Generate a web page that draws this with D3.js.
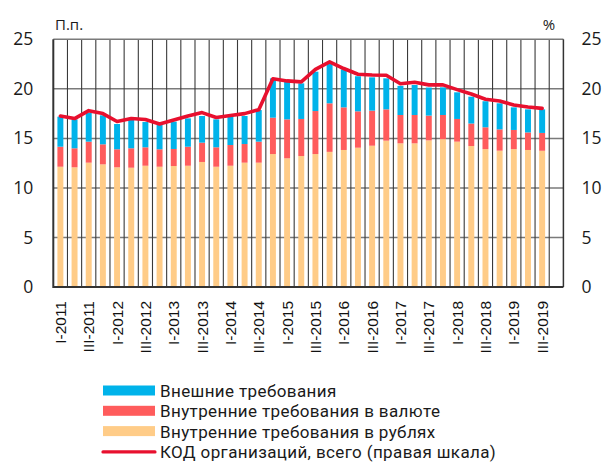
<!DOCTYPE html>
<html>
<head>
<meta charset="utf-8">
<script src="https://cdn.jsdelivr.net/npm/d3@7"></script>
<style>
  html, body { margin: 0; padding: 0; background: #fff; }
  svg { display: block; }
</style>
</head>
<body>
<svg id="chart" width="604" height="463"></svg>
<script>
// Quarterly periods, I-2011 … III-2019
const quarters = [
  "I-2011","II-2011","III-2011","IV-2011",
  "I-2012","II-2012","III-2012","IV-2012",
  "I-2013","II-2013","III-2013","IV-2013",
  "I-2014","II-2014","III-2014","IV-2014",
  "I-2015","II-2015","III-2015","IV-2015",
  "I-2016","II-2016","III-2016","IV-2016",
  "I-2017","II-2017","III-2017","IV-2017",
  "I-2018","II-2018","III-2018","IV-2018",
  "I-2019","II-2019","III-2019"
];
// trailing empty slot on the axis
const spareSlot = ["IV-2019"];

// Domestic claims in roubles, p.p.
const rubClaims = [
  12.14, 12.08, 12.55, 12.38,
  12.08, 12.04, 12.24, 12.14,
  12.21, 12.24, 12.62, 12.14,
  12.24, 12.55, 12.55, 13.42,
  12.99, 13.22, 13.42, 13.64,
  13.83, 14.06, 14.26, 14.77,
  14.50, 14.50, 14.80, 14.92,
  14.67, 14.23, 13.92, 13.76,
  13.92, 13.83, 13.75
];
// Domestic claims in foreign currency, p.p.
const fxClaims = [
  2.02, 1.92, 2.12, 2.02,
  1.82, 1.96, 1.86, 1.76,
  1.72, 1.92, 1.95, 1.96,
  2.09, 1.88, 2.12, 3.67,
  3.93, 3.74, 4.34, 4.90,
  4.30, 3.67, 3.54, 3.16,
  2.86, 2.86, 2.50, 2.44,
  2.29, 2.27, 2.20, 2.15,
  1.93, 1.77, 1.80
];
// External claims, p.p.
const extClaims = [
  3.03, 2.92, 2.93, 2.93,
  2.55, 2.86, 2.55, 2.45,
  2.76, 2.86, 2.69, 2.82,
  3.03, 2.83, 3.19, 3.97,
  3.80, 3.59, 3.97, 4.04,
  3.84, 3.54, 3.36, 3.13,
  2.94, 3.03, 2.83, 2.79,
  2.69, 2.71, 2.63, 2.63,
  2.28, 2.33, 2.38
];
// Total credit-to-GDP of corporates, % (right scale)
const totalRatio = [
  17.26, 17.00, 17.80, 17.50,
  16.70, 17.00, 16.90, 16.45,
  16.85, 17.26, 17.60, 17.10,
  17.30, 17.50, 17.90, 21.02,
  20.80, 20.70, 21.97, 22.72,
  22.05, 21.47, 21.40, 21.37,
  20.52, 20.66, 20.40, 20.40,
  19.92, 19.48, 18.95, 18.77,
  18.37, 18.17, 18.03
];

const yTicks = [0, 5, 10, 15, 20, 25];

const seriesNames = ["Внешние требования", "Внутренние требования в валюте", "Внутренние требования в рублях"];
const lineName = "КОД организаций, всего (правая шкала)";
const leftUnit = "П.п.";
const rightUnit = "%";

const colors = { ext: "#00b3ea", fx: "#ff5c5c", rub: "#ffcc88", line: "#e8102e" };

const svg = d3.select("#chart");
const m = { left: 53.3, right: 563.4, top: 39.3, bottom: 287 };

const x = d3.scaleBand()
  .domain(quarters.concat(spareSlot))
  .range([m.left, m.right])
  .paddingInner(0.58)
  .paddingOuter(0.29);
const step = x.step();

const yL = d3.scaleLinear().domain([0, 25]).range([m.bottom, m.top]);
const yR = d3.scaleLinear().domain([0, 25]).range([m.bottom, m.top]);

const rows = quarters.map((q, i) => ({ q, rub: rubClaims[i], fx: fxClaims[i], ext: extClaims[i], total: totalRatio[i] }));
const stack = d3.stack().keys(["rub", "fx", "ext"])(rows);

// Horizontal grid
svg.append("g").selectAll("line").data(yTicks.filter(t => t > 0 && t < 25)).join("line")
  .attr("x1", m.left).attr("x2", m.right)
  .attr("y1", d => yL(d)).attr("y2", d => yL(d))
  .attr("stroke", "#7a7a7a").attr("stroke-width", 1.5);

// Vertical grid at slot boundaries
const slotEdges = d3.range(1, x.domain().length).map(k => m.left + k * step);
svg.append("g").selectAll("line").data(slotEdges).join("line")
  .attr("x1", d => d).attr("x2", d => d)
  .attr("y1", m.top).attr("y2", m.bottom)
  .attr("stroke", "#3a3a3a").attr("stroke-width", 1.1);

// Bars
const layerColor = { rub: colors.rub, fx: colors.fx, ext: colors.ext };
svg.append("g").selectAll("g").data(stack).join("g")
  .attr("fill", d => layerColor[d.key])
  .selectAll("rect").data(d => d).join("rect")
    .attr("x", d => x(d.data.q))
    .attr("width", x.bandwidth())
    .attr("y", d => yL(d[1]))
    .attr("height", d => yL(d[0]) - yL(d[1]));

// Frame
svg.append("line").attr("x1", m.left).attr("x2", m.right).attr("y1", m.top).attr("y2", m.top)
  .attr("stroke", "#7a7a7a").attr("stroke-width", 1.5);
svg.append("line").attr("x1", m.right).attr("x2", m.right).attr("y1", m.top).attr("y2", m.bottom)
  .attr("stroke", "#333").attr("stroke-width", 1.5);
svg.append("line").attr("x1", m.left).attr("x2", m.right).attr("y1", m.bottom).attr("y2", m.bottom)
  .attr("stroke", "#333").attr("stroke-width", 2);
svg.append("line").attr("x1", m.left).attr("x2", m.left).attr("y1", m.top).attr("y2", m.bottom + 1)
  .attr("stroke", "#333").attr("stroke-width", 2);

// Total line (right scale)
const line = d3.line()
  .x(d => x(d.q) + x.bandwidth() / 2)
  .y(d => yR(d.total));
svg.append("path").datum(rows)
  .attr("d", line)
  .attr("fill", "none")
  .attr("stroke", colors.line)
  .attr("stroke-width", 3.6)
  .attr("stroke-linejoin", "round")
  .attr("stroke-linecap", "round");

// Axes
const numFont = "'Open Sans', 'DejaVu Sans', sans-serif";
const leftAxis = svg.append("g").attr("transform", `translate(${m.left},0)`)
  .call(d3.axisLeft(yL).tickValues(yTicks).tickSize(0).tickPadding(20));
const rightAxis = svg.append("g").attr("transform", `translate(${m.right},0)`)
  .call(d3.axisRight(yR).tickValues(yTicks).tickSize(0).tickPadding(18));
[leftAxis, rightAxis].forEach(a => {
  a.select(".domain").remove();
  a.selectAll("text").attr("font-family", numFont).attr("font-size", 17.5).attr("fill", "#1a1a1a");
});

const bottomAxis = svg.append("g").attr("transform", `translate(0,${m.bottom})`)
  .call(d3.axisBottom(x)
    .tickValues(quarters.filter((q, i) => i % 2 === 0))
    .tickSize(0));
bottomAxis.select(".domain").remove();
bottomAxis.selectAll("text")
  .attr("font-family", "'Liberation Sans Narrow', 'Arial Narrow', 'Liberation Sans', sans-serif")
  .attr("font-size", 15.5)
  .attr("fill", "#111")
  .attr("text-anchor", "end")
  .attr("dy", "0.35em")
  .attr("transform", "translate(0,14) rotate(-90)")
  .attr("x", 0).attr("y", 0);

// Unit labels
svg.append("text").attr("x", 55).attr("y", 30).text(leftUnit)
  .attr("font-family", numFont).attr("font-size", 15).attr("fill", "#1a1a1a");
svg.append("text").attr("x", 549).attr("y", 30).attr("text-anchor", "middle").text(rightUnit)
  .attr("font-family", numFont).attr("font-size", 15).attr("fill", "#1a1a1a");

// Legend
const legendFont = "Roboto, 'Noto Sans', sans-serif";
const legendItems = [
  { name: seriesNames[0], color: colors.ext, kind: "box" },
  { name: seriesNames[1], color: colors.fx, kind: "box" },
  { name: seriesNames[2], color: colors.rub, kind: "box" },
  { name: lineName, color: colors.line, kind: "line" }
];
const lg = svg.append("g").attr("transform", "translate(103,0)");
legendItems.forEach((it, i) => {
  const cy = 391 + i * 20.3;
  if (it.kind === "box") {
    lg.append("rect").attr("x", 0).attr("y", cy - 5.5).attr("width", 52).attr("height", 10).attr("fill", it.color);
  } else {
    lg.append("line").attr("x1", 0).attr("x2", 52).attr("y1", cy).attr("y2", cy)
      .attr("stroke", it.color).attr("stroke-width", 3.2).attr("stroke-linecap", "round");
  }
  lg.append("text").attr("x", 57).attr("y", cy).attr("dy", "0.35em").text(it.name)
    .attr("font-family", legendFont).attr("font-size", 17)
    .attr("letter-spacing", 0.38)
    .attr("fill", "#1a1a1a");
});
</script>
</body>
</html>
